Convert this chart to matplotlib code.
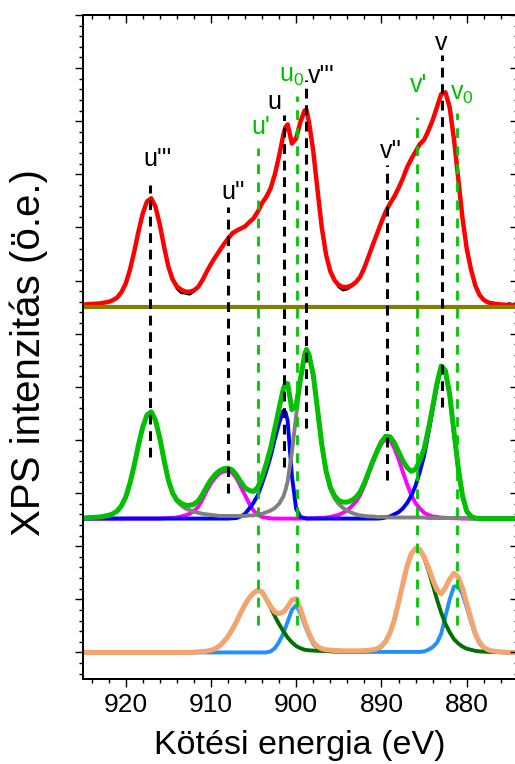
import numpy as np
import matplotlib
matplotlib.use("Agg")
import matplotlib.pyplot as plt
from matplotlib.ticker import MultipleLocator, FixedLocator
from matplotlib.transforms import offset_copy

plt.rcParams['font.family'] = ['Liberation Sans', 'DejaVu Sans']
plt.rcParams['mathtext.fontset'] = 'custom'
plt.rcParams['mathtext.rm'] = 'Liberation Sans'
plt.rcParams['mathtext.it'] = 'Liberation Sans:italic'

# ---------------- data ----------------
energy = np.array(
    [925, 924, 923, 922, 921.5, 921, 920.5, 920, 919.5, 919, 918.5, 918, 917.5, 917,
     916.5, 916, 915.5, 915, 914.5, 914, 913.5, 913, 912.5, 912, 911.5, 911, 910.5, 910,
     909.5, 909, 908.5, 908, 907.5, 907, 906.5, 906, 905.5, 905, 904.5, 904, 903.5, 903,
     902.5, 902, 901.5, 901.25, 901, 900.5, 900, 899.5, 899, 898.8,
     898.5, 898, 897.5, 897, 896.5, 896, 895.5, 895, 894.5, 894, 893.5, 893, 892.5, 892,
     891.5, 891, 890.5, 890, 889.5, 889, 888.5, 888, 887.5, 887, 886.5, 886, 885.5, 885,
     884.5, 884, 883.5, 883, 882.5, 882, 881.5, 881, 880.5, 880, 879.5, 879, 878.5, 878,
     877.5, 877, 876, 875, 874])

# Ce4+ components (middle panel)
ce4_u3v3 = np.array(  # grey: u''' / v'''
    [0.01, 0.02, 0.03, 0.06, 0.09, 0.14, 0.24, 0.40, 0.66, 1.00, 1.38, 1.72, 1.95, 2.01,
     1.85, 1.52, 1.10, 0.72, 0.47, 0.33, 0.25, 0.19, 0.16, 0.13, 0.11, 0.09, 0.08, 0.07,
     0.06, 0.05, 0.05, 0.05, 0.05, 0.05, 0.05, 0.05, 0.06, 0.06, 0.08, 0.09, 0.12, 0.15,
     0.20, 0.28, 0.42, 0.54, 0.70, 1.25, 1.95, 2.60, 3.08, 3.18,
     3.08, 2.70, 2.05, 1.38, 0.88, 0.56, 0.38, 0.27, 0.20, 0.15, 0.11, 0.08, 0.06, 0.05,
     0.04, 0.04, 0.03, 0.03, 0.03, 0.02, 0.02, 0.02, 0.02, 0.02, 0.02, 0.02, 0.02, 0.02,
     0.01, 0.01, 0.01, 0.01, 0.01, 0.01, 0.01, 0.01, 0.01, 0.01, 0.0, 0.0, 0.0, 0.0,
     0.0, 0.0, 0.0, 0.0, 0.0])
ce4_u2v2 = np.array(  # magenta: u'' / v''
    [0.0] * 16 +
    [0.005, 0.01, 0.015, 0.02, 0.04, 0.06, 0.09, 0.14, 0.22, 0.36, 0.52, 0.66,
     0.77, 0.85, 0.89, 0.90, 0.86, 0.76, 0.60, 0.44, 0.28, 0.15, 0.07, 0.03, 0.015, 0.005,
     0.0, 0.0, 0.0, 0.0, 0.0, 0.0, 0.0, 0.0, 0.005, 0.005,
     0.005, 0.007, 0.01, 0.013, 0.02, 0.03, 0.05, 0.07, 0.11, 0.16, 0.23, 0.32, 0.44, 0.62,
     0.84, 1.05, 1.25, 1.41, 1.50, 1.48, 1.33, 1.12, 0.88, 0.65, 0.44, 0.29, 0.19, 0.11,
     0.07, 0.04, 0.03, 0.02, 0.015, 0.01, 0.007, 0.005, 0.0, 0.0, 0.0, 0.0, 0.0, 0.0,
     0.0, 0.0, 0.0, 0.0, 0.0])
ce4_uv = np.array(  # blue: u / v
    [0.0] * 31 +
    [0.0, 0.005, 0.01, 0.04, 0.09, 0.19, 0.30, 0.44, 0.66, 0.90, 1.17,
     1.50, 1.80, 2.03, 2.00, 1.84, 0.80, 0.18, 0.03, 0.01, 0.0] +
    [0.0] * 17 +
    [0.005, 0.02, 0.04, 0.08, 0.12, 0.19, 0.29, 0.43, 0.62, 0.88, 1.18,
     1.60, 2.05, 2.50, 2.84, 2.76, 2.32, 1.62, 0.95, 0.42, 0.13, 0.04, 0.01, 0.0, 0.0,
     0.0, 0.0, 0.0, 0.0, 0.0])

# Ce3+ components (bottom panel)
ce3_u1v1 = np.array(  # dark green: u' / v'
    [0.0] * 23 +
    [0.005, 0.01, 0.015, 0.025, 0.04, 0.07, 0.12, 0.20, 0.30, 0.43, 0.58, 0.75,
     0.90, 1.03, 1.12, 1.17, 1.14, 1.00, 0.85, 0.68, 0.53, 0.40, 0.34, 0.28, 0.19, 0.12,
     0.08, 0.05, 0.045,
     0.04, 0.035, 0.03, 0.03, 0.025, 0.025, 0.02, 0.02, 0.02, 0.02, 0.02, 0.02, 0.02, 0.025,
     0.03, 0.04, 0.06, 0.11, 0.20, 0.36, 0.60, 0.93, 1.28, 1.62, 1.85, 1.95, 1.93, 1.78,
     1.55, 1.28, 1.00, 0.75, 0.54, 0.38, 0.25, 0.17, 0.11, 0.07, 0.05, 0.03, 0.02, 0.015,
     0.01, 0.008, 0.005, 0.0, 0.0])
ce3_u0v0 = np.array(  # light blue: u0 / v0
    [0.0] * 41 +
    [0.02, 0.08, 0.20, 0.36, 0.47, 0.58, 0.80, 0.89, 0.74, 0.52, 0.44, 0.32, 0.16,
     0.08, 0.04, 0.025, 0.02, 0.015, 0.015,
     0.01, 0.01, 0.01, 0.01, 0.01, 0.01, 0.01, 0.01, 0.01, 0.01, 0.01, 0.01, 0.01, 0.01,
     0.01, 0.01, 0.01, 0.01,
     0.01, 0.02, 0.05, 0.10, 0.18, 0.35, 0.68, 1.00, 1.24, 1.25, 1.10, 0.85, 0.58, 0.33,
     0.17, 0.08, 0.04, 0.02, 0.005, 0.0, 0.0])

# measured spectrum: deviations from the fit where the black data shows
raw_dev_E = [919.5, 914, 913.5, 913, 912.5, 912, 907.5, 903.5, 895, 894.5, 894, 893.5,
             884.5, 877, 876, 875, 874]
raw_dev_val = [0.03, -0.04, -0.06, -0.03, -0.05, -0.02, 0.02, 0.03, -0.04, -0.06, -0.04,
               -0.02, 0.02, 0.02, -0.03, 0.03, -0.02]
top_bg = 0.04

black_labels = ["u'''", "u''", "u", "v'''", "v''", "v"]
black_E = [917.15, 908.0, 901.4, 898.8, 889.4, 882.9]
green_labels = ["u'", r"u$_\mathrm{0}$", "v'", r"v$_\mathrm{0}$"]
green_E = [904.45, 899.95, 885.8, 881.2]

for arr in (ce4_u3v3, ce4_u2v2, ce4_uv, ce3_u1v1, ce3_u0v0):
    assert len(arr) == len(energy), len(arr)

# ---------------- derived envelopes ----------------
ce4_sum = ce4_u3v3 + ce4_u2v2 + ce4_uv
ce3_sum = ce3_u1v1 + ce3_u0v0
fit_sum = ce4_sum + ce3_sum + top_bg
raw_sum = fit_sum.copy()
for e, d in zip(raw_dev_E, raw_dev_val):
    raw_sum[np.isclose(energy, e)] += d

# ---------------- layout ----------------
W, H = 515, 764
fig = plt.figure(figsize=(W / 100, H / 100), dpi=100)
ax = fig.add_axes([83 / W, 85 / H, 434.9 / W, 664 / H])
ax.set_xlim(925, 874)
ax.set_ylim(-0.5, 12)

OFF_TOP, OFF_MID, OFF_BOT = 6.5, 2.52, 0.0

# top panel
ax.plot(energy, raw_sum + OFF_TOP, color='black', lw=1.8, zorder=2)
ax.plot(energy, fit_sum + OFF_TOP, color='#ff0000', lw=3.2, zorder=3)
ax.axhline(OFF_TOP, color='#808000', lw=3.0, zorder=4)

# middle panel
ax.plot(energy, ce4_u2v2 + OFF_MID, color='#ff00ff', lw=2.8, zorder=2)
ax.plot(energy, ce4_uv + OFF_MID, color='#0000ff', lw=2.8, zorder=2)
ax.plot(energy, ce4_u3v3 + OFF_MID, color='#808080', lw=2.8, zorder=2)
ax.plot(energy, ce4_sum + OFF_MID, color='#00c000', lw=3.6, zorder=3)

# bottom panel
ax.plot(energy, ce3_u0v0 + OFF_BOT, color='#1e90ff', lw=2.8, zorder=2)
ax.plot(energy, ce3_u1v1 + OFF_BOT, color='#007000', lw=2.8, zorder=2)
ax.plot(energy, ce3_sum + OFF_BOT, color='#f4a46e', lw=3.6, zorder=3)

# dashed marker lines and labels
black_top = [8.80, 8.39, 10.12, 10.78, 9.18, 11.25]
black_bot = [3.68, 3.00, 3.49, 4.22, 3.24, 4.62]
black_lab_y = [9.16, 8.54, 10.23, 10.72, 9.31, 11.34]
black_dx = [-7, -7, -17, 1.5, -7, -7]
for e, y0, y1, lab, ly, dx in zip(black_E, black_bot, black_top, black_labels,
                                  black_lab_y, black_dx):
    ax.plot([e, e], [y0, y1], color='black', lw=2.2, dashes=(3.2, 2.2), zorder=5)
    tr = offset_copy(ax.transData, fig=fig, x=dx, y=0, units='dots')
    ax.text(e, ly, lab, transform=tr, ha='left', va='baseline', fontsize=18,
            color='black', zorder=6)

green_top = [9.50, 10.48, 10.08, 10.16]
green_lab_y = [9.76, 10.74, 10.55, 10.40]
green_dx = [-7, -17.5, -7, -7]
for e, y1, lab, ly, dx in zip(green_E, green_top, green_labels, green_lab_y, green_dx):
    ax.plot([e, e], [0.52, y1], color='#00c800', lw=2.0, dashes=(3.5, 3.0), zorder=5)
    tr = offset_copy(ax.transData, fig=fig, x=dx, y=0, units='dots')
    ax.text(e, ly, lab, transform=tr, ha='left', va='baseline', fontsize=18,
            color='#00c000', zorder=6)

# ticks
for s in ax.spines.values():
    s.set_linewidth(1.1)
ax.xaxis.set_major_locator(FixedLocator([920, 910, 900, 890, 880]))
ax.xaxis.set_minor_locator(MultipleLocator(2))
ax.yaxis.set_major_locator(MultipleLocator(1))
ax.yaxis.set_minor_locator(MultipleLocator(0.2))
ax.tick_params(axis='x', which='both', direction='out', bottom=True, top=False,
               labelsize=19, pad=4, width=1.0)
ax.tick_params(axis='y', which='both', direction='out', left=True, right=False,
               labelleft=False, width=1.0)
ax.tick_params(which='major', length=5.8)
ax.tick_params(which='minor', length=3.2)

axt = ax.twiny()
axt.set_xlim(ax.get_xlim())
axt.xaxis.set_major_locator(FixedLocator([920, 910, 900, 890, 880]))
axt.xaxis.set_minor_locator(MultipleLocator(2))
axt.tick_params(axis='x', which='both', direction='in', top=True, labeltop=False, width=1.0)
axt.tick_params(which='major', length=5.8)
axt.tick_params(which='minor', length=3.2)

axr = ax.twinx()
axr.set_ylim(ax.get_ylim())
axr.yaxis.set_major_locator(MultipleLocator(1))
axr.yaxis.set_minor_locator(MultipleLocator(0.2))
axr.tick_params(axis='y', which='both', direction='in', right=True, labelright=False, width=1.0)
axr.tick_params(which='major', length=5.8)
axr.tick_params(which='minor', length=3.2)
for a in (axt, axr):
    for s in a.spines.values():
        s.set_linewidth(1.1)

fig.text(300 / W, 1 - 754 / H, "Kötési energia (eV)", ha='center', va='baseline',
         fontsize=24.5)
fig.text(29 / W, 1 - 353 / H, "XPS intenzitás (ö.e.)", rotation=90, ha='center',
         va='center', fontsize=29)

fig.savefig("out.png", dpi=100)
